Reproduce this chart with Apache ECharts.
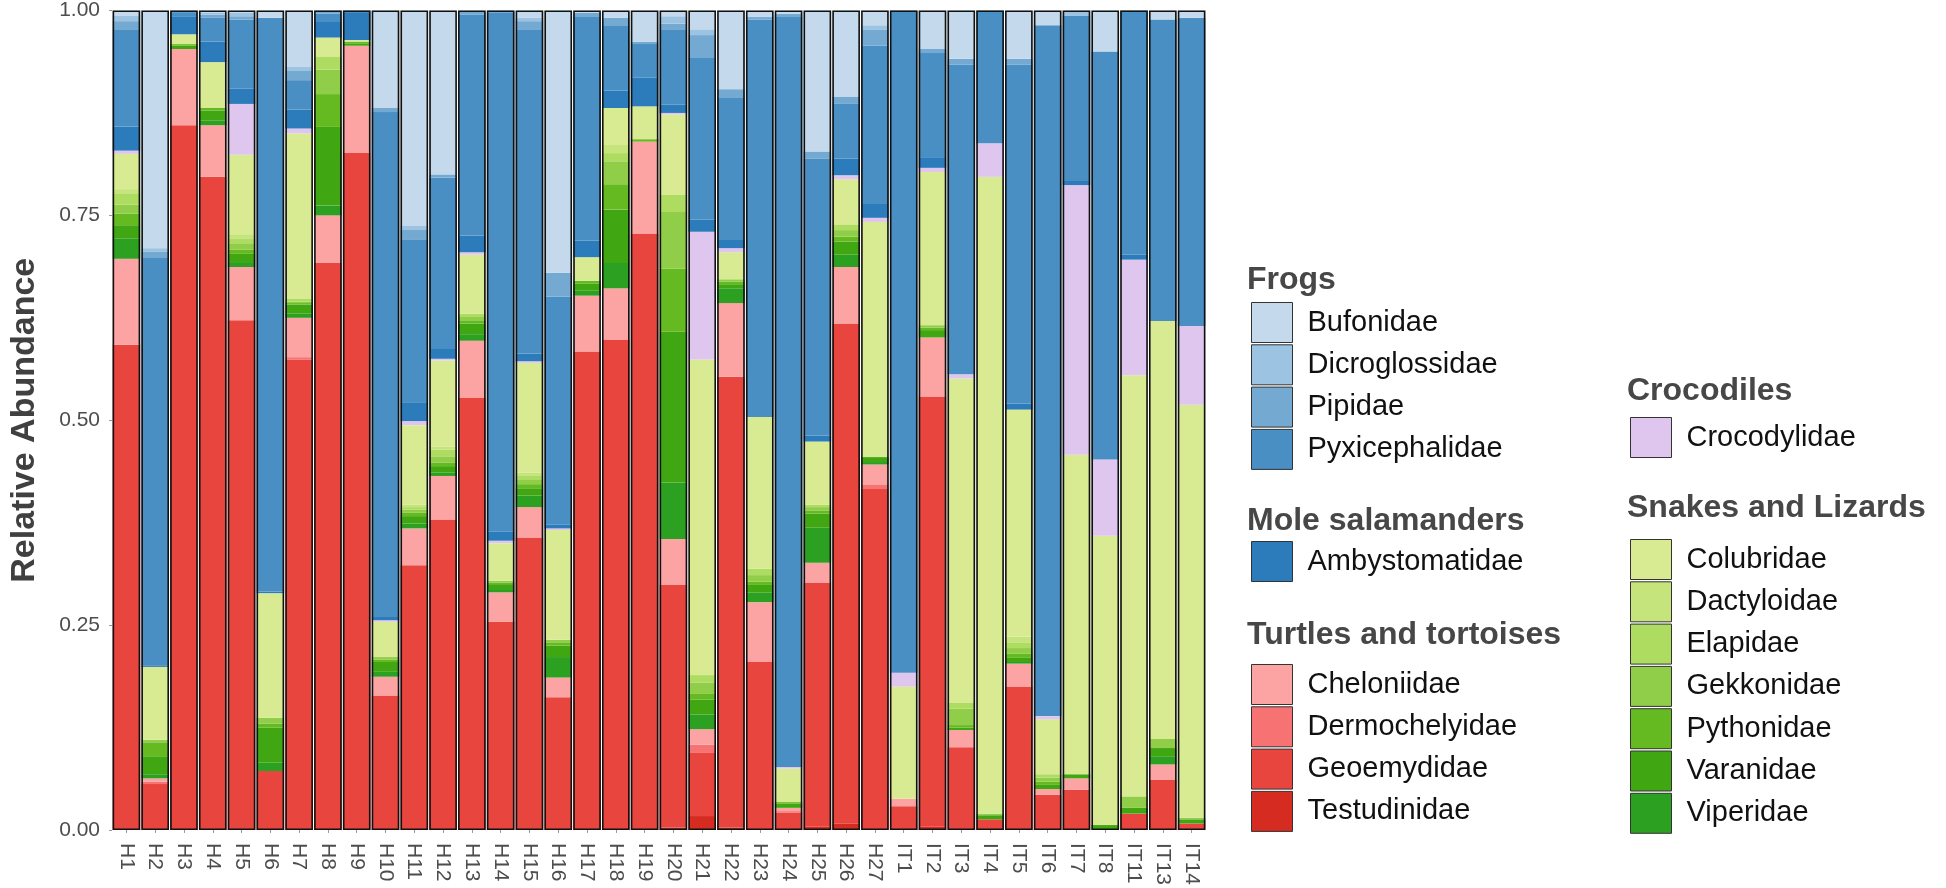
<!DOCTYPE html>
<html>
<head>
<meta charset="utf-8">
<script src="https://cdn.jsdelivr.net/npm/echarts@6/dist/echarts.min.js"></script>
<style>html,body{margin:0;padding:0;background:#fff;}#chart{width:1946px;height:888px;}</style>
</head>
<body>
<div id="chart"></div>
<script>
const samples = ['H1','H2','H3','H4','H5','H6','H7','H8','H9','H10','H11','H12','H13','H14','H15','H16','H17','H18','H19','H20','H21','H22','H23','H24','H25','H26','H27','IT1','IT2','IT3','IT4','IT5','IT6','IT7','IT8','IT11','IT13','IT14'];
const yTicks = [0, 0.25, 0.5, 0.75, 1];

// stacked bottom -> top
const Testudinidae   = [0,0,0,0,0,0,0,0,0,0, 0,0,0,0,0,0,0,0,0,.003, .017,.003,0,0,.004,.008,0, 0,.004,0,0,0,0,0,0,0,0,0];
const Geoemydidae    = [.592,.056,.860,.797,.622,.072,.574,.692,.826,.164, .323,.379,.527,.254,.357,.162,.584,.598,.728,.296, .077,.550,.205,.021,.298,.610,.416, .029,.525,.101,.013,.175,.043,.049,0,.020,.061,.008];
const Dermochelyidae = [0,.003,0,0,0,0,.003,0,0,0, 0,0,0,0,0,0,0,0,0,0, .010,0,0,.002,0,0,.005, 0,0,0,0,0,0,0,0,0,0,0];
const Cheloniidae    = [.105,.004,.093,.063,.065,0,.048,.058,.131,.023, .045,.053,.070,.036,.037,.024,.068,.063,.112,.056, .019,.090,.073,.004,.024,.069,.025, .009,.072,.021,0,.028,.007,.014,0,0,.019,0];
const Viperidae      = [.025,.005,0,.006,.006,.010,.005,.012,0,.006, .006,.004,.008,.004,.014,.025,.006,.031,0,.069, .018,.018,.012,0,.043,.015,.003, 0,0,0,0,.002,0,0,0,0,.010,0];
const Varanidae      = [.016,.022,.004,.012,.010,.043,.011,.096,.003,.012, .009,.008,.013,.006,.009,.014,.009,.065,0,.184, .018,.005,.009,.005,.017,.016,.006, 0,.009,.003,.005,.005,.005,.005,.006,.007,.010,.005];
const Pythonidae     = [.014,.017,.002,.003,.005,.005,.002,.040,.002,.003, .004,.004,.004,.002,.005,.004,.003,.031,.003,.077, .007,.003,.004,.002,.004,.006,0, 0,.003,.003,0,.005,.004,0,0,0,0,0];
const Gekkonidae     = [.011,.003,0,0,.008,.007,.002,.030,0,.003, .004,.008,.004,.002,.006,.003,0,.028,0,.069, .014,.003,.008,0,.004,.008,0, 0,.003,.020,.002,.007,.005,0,0,.014,.011,.002];
const Elapidae       = [.014,0,0,0,.006,0,.003,.016,0,0, .003,.008,.004,0,.004,0,0,.010,0,.021, .009,0,.008,0,.003,.007,0, 0,0,.007,0,.007,.004,0,0,0,0,0];
const Dactyloidae    = [.005,0,0,0,.005,0,0,0,0,0, .003,.004,0,0,.004,0,0,.010,0,0, 0,0,0,0,0,0,0, 0,0,0,0,.007,0,0,0,0,0,0];
const Colubridae     = [.043,.089,.012,.056,.097,.152,.202,.023,.002,.043, .097,.105,.072,.046,.134,.134,.029,.045,.040,.098, .385,.033,.185,.041,.077,.055,.287, .137,.187,.396,.777,.277,.067,.390,.353,.514,.510,.504];
const Crocodylidae   = [.004,0,0,0,.062,0,.006,0,0,.002, .005,.002,.003,.003,.002,.002,0,0,0,.002, .156,.005,0,.002,0,.005,.005, .017,.005,.005,.041,0,.004,.329,.093,.141,0,.096];
const Ambystomatidae = [.029,.002,.022,.025,.019,.002,.023,.019,.034,.004, .023,.013,.020,.011,.009,.005,.020,.021,.035,.010, .015,.010,0,0,.007,.020,.017, 0,.013,0,0,.007,0,.005,0,.006,0,0];
const Pyxicephalidae = [.119,.497,.005,.029,.084,.700,.036,.010,.002,.616, .199,.208,.270,.634,.396,.278,.274,.079,.041,.092, .198,.174,.485,.916,.338,.067,.193, .808,.127,.378,.162,.414,.843,.202,.498,.298,.368,.376];
const Pipidae        = [.010,.008,.002,.004,.004,0,.012,.004,0,.005, .012,.004,.004,.002,.010,.029,.004,.010,.003,.007, .027,.010,.003,.003,.009,.009,.020, 0,.005,.007,0,.007,0,0,0,0,0,0];
const Dicroglossidae = [.007,.004,0,.002,.004,0,.004,0,0,0, .004,0,0,0,.004,0,0,0,0,.009, .007,0,0,0,0,0,.005, 0,0,0,0,0,0,.006,0,0,0,0];
const Bufonidae      = [.006,.290,0,.003,.003,.009,.069,0,0,.119, .263,.200,.001,0,.009,.320,.003,.009,.038,.007, .023,.096,.008,.004,.172,.105,.018, 0,.047,.059,0,.059,.018,0,.050,0,.011,.009];

const stackOrder = [
  ['Testudinidae', Testudinidae, '#d52b21'],
  ['Geoemydidae', Geoemydidae, '#e8453f'],
  ['Dermochelyidae', Dermochelyidae, '#f77272'],
  ['Cheloniidae', Cheloniidae, '#fca3a3'],
  ['Viperidae', Viperidae, '#2ca020'],
  ['Varanidae', Varanidae, '#40a713'],
  ['Pythonidae', Pythonidae, '#64ba20'],
  ['Gekkonidae', Gekkonidae, '#90cd48'],
  ['Elapidae', Elapidae, '#addc60'],
  ['Dactyloidae', Dactyloidae, '#c5e47b'],
  ['Colubridae', Colubridae, '#d8eb92'],
  ['Crocodylidae', Crocodylidae, '#dec6ef'],
  ['Ambystomatidae', Ambystomatidae, '#2c7bba'],
  ['Pyxicephalidae', Pyxicephalidae, '#4a8fc4'],
  ['Pipidae', Pipidae, '#74a9d2'],
  ['Dicroglossidae', Dicroglossidae, '#9cc4e2'],
  ['Bufonidae', Bufonidae, '#c4d9ec']
];

const groups = [
  {title: 'Frogs', items: ['Bufonidae','Dicroglossidae','Pipidae','Pyxicephalidae']},
  {title: 'Mole salamanders', items: ['Ambystomatidae']},
  {title: 'Turtles and tortoises', items: ['Cheloniidae','Dermochelyidae','Geoemydidae','Testudinidae']},
  {title: 'Crocodiles', items: ['Crocodylidae']},
  {title: 'Snakes and Lizards', items: ['Colubridae','Dactyloidae','Elapidae','Gekkonidae','Pythonidae','Varanidae','Viperidae']}
];
// layout of legend blocks (box left/top, heading center y)
const legendPos = [
  {left: 1251, top: 302, hx: 1247, hy: 280},
  {left: 1251, top: 541, hx: 1247, hy: 521},
  {left: 1251, top: 664, hx: 1247, hy: 635},
  {left: 1630, top: 417, hx: 1627, hy: 391},
  {left: 1630, top: 539, hx: 1627, hy: 508}
];

const FONT = "'Liberation Sans', Arial, Helvetica, sans-serif";

const series = stackOrder.map(([name, data, color]) => ({
  name, type: 'bar', stack: 'total', data,
  barCategoryGap: '4%', barGap: '-100%',
  itemStyle: {color},
  emphasis: {disabled: true}
}));
series.push({
  name: 'outline', type: 'bar', data: samples.map(() => 1),
  barCategoryGap: '4%', barGap: '-100%', z: 5, silent: true,
  itemStyle: {color: 'rgba(0,0,0,0)', borderColor: '#111', borderWidth: 1.6}
});

const legends = groups.map((g, i) => ({
  data: g.items, orient: 'vertical', left: legendPos[i].left, top: legendPos[i].top,
  padding: 0, itemWidth: 41, itemHeight: 40, itemGap: 1.3, icon: 'rect',
  selectedMode: false,
  itemStyle: {borderColor: '#333', borderWidth: 1},
  textStyle: {fontFamily: FONT, fontSize: 29, color: '#111', lineHeight: 40, padding: [0,0,0,10]}
}));

const graphics = groups.map((g, i) => ({
  type: 'text', left: legendPos[i].hx, top: legendPos[i].hy - 20,
  style: {text: g.title, fontFamily: FONT, fontSize: 32, fontWeight: 'bold', fill: '#474747', lineHeight: 40}
}));

const chart = echarts.init(document.getElementById('chart'), null, {renderer: 'canvas'});
chart.setOption({
  animation: false,
  backgroundColor: '#fff',
  grid: {left: 104, right: 740, top: 7, bottom: 57},
  xAxis: {
    type: 'category', data: samples,
    axisLine: {show: false},
    axisTick: {show: true, length: 3, lineStyle: {color: '#999'}, alignWithLabel: true},
    axisLabel: {rotate: -90, fontFamily: FONT, fontSize: 21, color: '#4d4d4d', margin: 13, interval: 0}
  },
  yAxis: {
    type: 'value', min: 0, max: 1, interval: 0.25,
    name: 'Relative Abundance', nameLocation: 'middle', nameGap: 70,
    nameTextStyle: {fontFamily: FONT, fontSize: 34, fontWeight: 'bold', color: '#404040'},
    axisLine: {show: false},
    axisTick: {show: true, length: 3, lineStyle: {color: '#999'}},
    splitLine: {show: false},
    axisLabel: {fontFamily: FONT, fontSize: 21, color: '#4d4d4d', margin: 12,
      formatter: v => yTicks.includes(v) ? v.toFixed(2) : ''}
  },
  legend: legends,
  graphic: graphics,
  series
});
</script>
</body>
</html>
